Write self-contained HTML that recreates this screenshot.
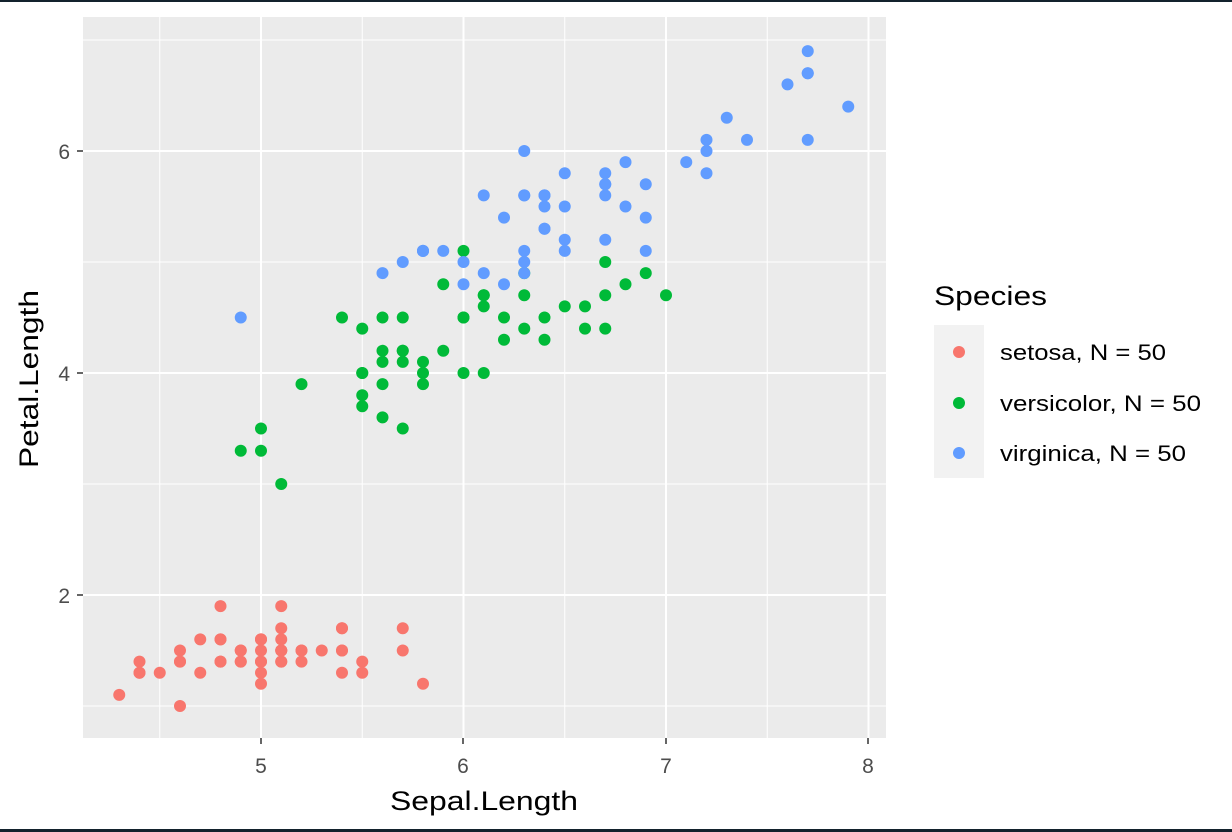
<!DOCTYPE html>
<html><head><meta charset="utf-8"><style>
html,body{margin:0;padding:0;background:#fff}
svg{display:block}
text{font-family:"Liberation Sans",Arial,sans-serif}
</style></head><body>
<svg id="s" width="1232" height="832" xmlns="http://www.w3.org/2000/svg">
<rect x="0" y="0" width="1232" height="832" fill="#fff"/>
<rect x="0" y="0" width="1232" height="2" fill="#13222d"/>
<rect x="0" y="829" width="1232" height="3" fill="#13222d"/>
<rect x="83" y="17" width="803" height="721" fill="#ebebeb"/>
<g id="grid"></g>
<g id="pts"></g>
<g fill="#4d4d4d" font-size="21" text-anchor="middle">
<text x="261" y="773">5</text><text x="463" y="773">6</text><text x="666" y="773">7</text><text x="868" y="773">8</text>
</g>
<g fill="#4d4d4d" font-size="21" text-anchor="end">
<text x="70" y="159">6</text><text x="70" y="381">4</text><text x="70" y="603">2</text>
</g>
<g stroke="#333" stroke-width="1.5">
<line x1="261" y1="738" x2="261" y2="744"/><line x1="463" y1="738" x2="463" y2="744"/><line x1="666" y1="738" x2="666" y2="744"/><line x1="868" y1="738" x2="868" y2="744"/>
<line x1="77" y1="151" x2="83" y2="151"/><line x1="77" y1="373" x2="83" y2="373"/><line x1="77" y1="595" x2="83" y2="595"/>
</g>
<text x="390" y="810" font-size="27" textLength="188" lengthAdjust="spacingAndGlyphs" fill="#000">Sepal.Length</text>
<text transform="translate(38,468) rotate(-90)" font-size="27" textLength="178" lengthAdjust="spacingAndGlyphs" fill="#000">Petal.Length</text>
<text x="934" y="305" font-size="27" textLength="113" lengthAdjust="spacingAndGlyphs" fill="#000">Species</text>
<rect x="934" y="325" width="50" height="153" fill="#f2f2f2"/>
<circle cx="959" cy="352" r="6" fill="#F8766D"/>
<circle cx="959" cy="403" r="6" fill="#00BA38"/>
<circle cx="959" cy="453" r="6" fill="#619CFF"/>
<g font-size="22" fill="#000">
<text x="1000" y="360" textLength="166" lengthAdjust="spacingAndGlyphs">setosa, N = 50</text>
<text x="1000" y="411" textLength="201" lengthAdjust="spacingAndGlyphs">versicolor, N = 50</text>
<text x="1000" y="461" textLength="186" lengthAdjust="spacingAndGlyphs">virginica, N = 50</text>
</g>
</svg>
<script>
var X=function(v){return 261+(v-5)*202.5},Y=function(v){return 373-(v-4)*111};
var ns="http://www.w3.org/2000/svg",g=document.getElementById("grid"),p=document.getElementById("pts");
function ln(x1,y1,x2,y2,w){var l=document.createElementNS(ns,"line");l.setAttribute("x1",x1);l.setAttribute("y1",y1);l.setAttribute("x2",x2);l.setAttribute("y2",y2);l.setAttribute("stroke","#fff");l.setAttribute("stroke-width",w);g.appendChild(l);}
[4.5,5.5,6.5,7.5].forEach(function(v){ln(X(v),17,X(v),738,1)});
[1,3,5,7].forEach(function(v){ln(83,Y(v),886,Y(v),1)});
[5,6,7,8].forEach(function(v){ln(X(v),17,X(v),738,2)});
[2,4,6].forEach(function(v){ln(83,Y(v),886,Y(v),2)});
var se="5.1 1.4 4.9 1.4 4.7 1.3 4.6 1.5 5.0 1.4 5.4 1.7 4.6 1.4 5.0 1.5 4.4 1.4 4.9 1.5 5.4 1.5 4.8 1.6 4.8 1.4 4.3 1.1 5.8 1.2 5.7 1.5 5.4 1.3 5.1 1.4 5.7 1.7 5.1 1.5 5.4 1.7 5.1 1.5 4.6 1.0 5.1 1.7 4.8 1.9 5.0 1.6 5.0 1.6 5.2 1.5 5.2 1.4 4.7 1.6 4.8 1.6 5.4 1.5 5.2 1.5 5.5 1.4 4.9 1.5 5.0 1.2 5.5 1.3 4.9 1.4 4.4 1.3 5.1 1.5 5.0 1.3 4.5 1.3 4.4 1.3 5.0 1.6 5.1 1.9 4.8 1.4 5.1 1.6 4.6 1.4 5.3 1.5 5.0 1.4";
var ve="7.0 4.7 6.4 4.5 6.9 4.9 5.5 4.0 6.5 4.6 5.7 4.5 6.3 4.7 4.9 3.3 6.6 4.6 5.2 3.9 5.0 3.5 5.9 4.2 6.0 4.0 6.1 4.7 5.6 3.6 6.7 4.4 5.6 4.5 5.8 4.1 6.2 4.5 5.6 3.9 5.9 4.8 6.1 4.0 6.3 4.9 6.1 4.7 6.4 4.3 6.6 4.4 6.8 4.8 6.7 5.0 6.0 4.5 5.7 3.5 5.5 3.8 5.5 3.7 5.8 3.9 6.0 5.1 5.4 4.5 6.0 4.5 6.7 4.7 6.3 4.4 5.6 4.1 5.5 4.0 5.5 4.4 6.1 4.6 5.8 4.0 5.0 3.3 5.6 4.2 5.7 4.2 5.7 4.2 6.2 4.3 5.1 3.0 5.7 4.1";
var vi="6.3 6.0 5.8 5.1 7.1 5.9 6.3 5.6 6.5 5.8 7.6 6.6 4.9 4.5 7.3 6.3 6.7 5.8 7.2 6.1 6.5 5.1 6.4 5.3 6.8 5.5 5.7 5.0 5.8 5.1 6.4 5.3 6.5 5.5 7.7 6.7 7.7 6.9 6.0 5.0 6.9 5.7 5.6 4.9 7.7 6.7 6.3 4.9 6.7 5.7 7.2 6.0 6.2 4.8 6.1 4.9 6.4 5.6 7.2 5.8 7.4 6.1 7.9 6.4 6.4 5.6 6.3 5.1 6.1 5.6 7.7 6.1 6.3 5.6 6.4 5.5 6.0 4.8 6.9 5.4 6.7 5.6 6.9 5.1 5.8 5.1 6.8 5.9 6.7 5.7 6.7 5.2 6.3 5.0 6.5 5.2 6.2 5.4 5.9 5.1";
[[se,"#F8766D"],[ve,"#00BA38"],[vi,"#619CFF"]].forEach(function(s){var a=s[0].split(" ").map(Number);for(var i=0;i<a.length;i+=2){var c=document.createElementNS(ns,"circle");c.setAttribute("cx",X(a[i]));c.setAttribute("cy",Y(a[i+1]));c.setAttribute("r",6);c.setAttribute("fill",s[1]);p.appendChild(c);}});
</script>
</body></html>
